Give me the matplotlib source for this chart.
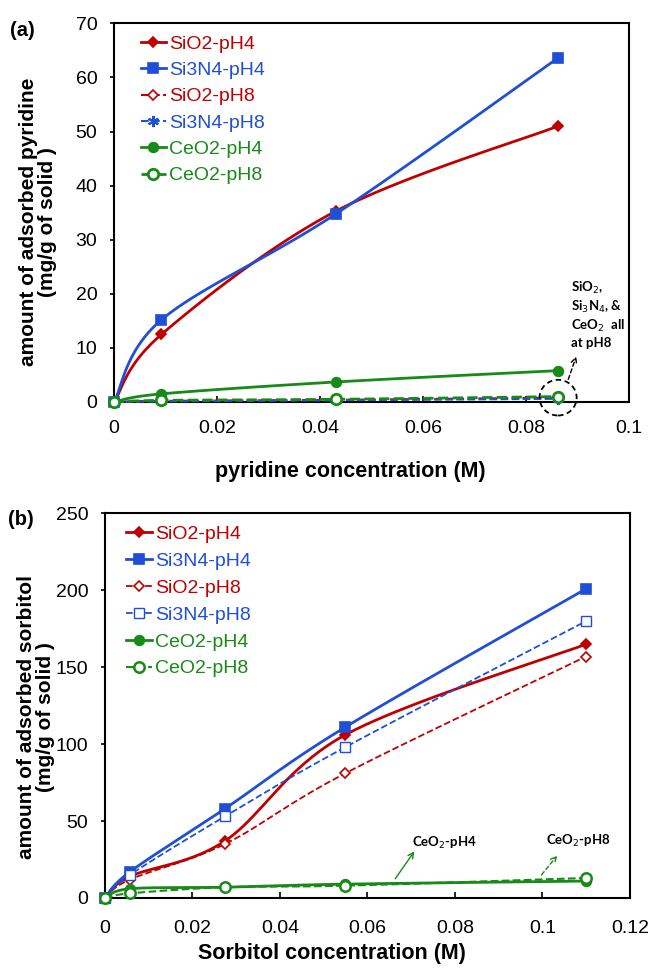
import numpy as np
import matplotlib
matplotlib.use('Agg')
import matplotlib.pyplot as plt
from matplotlib.lines import Line2D
from matplotlib.patches import Ellipse

plt.rcParams['font.family'] = ['Liberation Sans', 'DejaVu Sans']

# ---- data, panel (a): pyridine ----
x_pyr = [0, 0.0092, 0.0431, 0.0862]
pyr_sio2_ph4 = [0, 12.5, 35.3, 51.0]
pyr_si3n4_ph4 = [0, 15.2, 34.8, 63.6]
pyr_sio2_ph8 = [0, 0.2, 0.4, 0.8]
pyr_si3n4_ph8 = [0, 0.1, 0.3, 0.6]
pyr_ceo2_ph4 = [0, 1.5, 3.7, 5.8]
pyr_ceo2_ph8 = [0, 0.3, 0.5, 1.0]

# ---- data, panel (b): sorbitol ----
x_sor = [0, 0.0057, 0.0274, 0.0549, 0.110]
sor_sio2_ph4 = [0, 14, 37, 106, 165]
sor_si3n4_ph4 = [0, 17, 58, 111, 201]
sor_sio2_ph8 = [0, 12, 35, 81, 157]
sor_si3n4_ph8 = [0, 15, 53, 98, 180]
sor_ceo2_ph4 = [0, 6, 7, 9, 11]
sor_ceo2_ph8 = [0, 3, 7, 8, 13]

labels = ['SiO2-pH4', 'Si3N4-pH4', 'SiO2-pH8', 'Si3N4-pH8', 'CeO2-pH4', 'CeO2-pH8']

RED = '#C00000'
BLUE = '#1F4FD6'
GREEN = '#178A17'
NOTE_FONT = ['Lato', 'DejaVu Sans']


def smooth(x, y, n=40):
    # Excel-like smoothed line (Catmull-Rom as cubic Bezier)
    x = np.asarray(x, float)
    y = np.asarray(y, float)
    p = np.column_stack([x, y])
    out = [p[0]]
    t = np.linspace(0, 1, n)[1:, None]
    for i in range(len(p) - 1):
        p0 = p[i - 1] if i > 0 else p[i]
        p3 = p[i + 2] if i + 2 < len(p) else p[i + 1]
        c1 = p[i] + (p[i + 1] - p0) / 6
        c2 = p[i + 1] - (p3 - p[i]) / 6
        seg = ((1 - t) ** 3 * p[i] + 3 * (1 - t) ** 2 * t * c1
               + 3 * (1 - t) * t ** 2 * c2 + t ** 3 * p[i + 1])
        out.extend(seg)
    out = np.array(out)
    return out[:, 0], out[:, 1]


def draw(ax, x, ys, styles):
    handles = []
    for y, (col, ls, lw, mk, ms, mfc, mew, z), lab in zip(ys, styles, labels):
        sx, sy = smooth(x, y)
        ax.plot(sx, sy, color=col, ls=ls, lw=lw, zorder=z, clip_on=False)
        ax.plot(x, y, ls='none', marker=mk, ms=ms, color=col, mfc=mfc,
                mew=mew, zorder=z + 0.5, clip_on=False)
        handles.append(Line2D([], [], color=col, ls=ls, lw=lw, marker=mk,
                              ms=ms, mfc=mfc, mew=mew, label=lab))
    return handles


def style_axes(ax, xpad):
    for s in ax.spines.values():
        s.set_linewidth(1.5)
        s.set_color('black')
    ax.tick_params(axis='y', direction='out', length=3, width=1.2, labelsize=14, pad=9)
    ax.tick_params(axis='x', direction='in', length=4, width=1.2, labelsize=14, pad=xpad)
    ax.xaxis.set_major_formatter(matplotlib.ticker.FormatStrFormatter('%g'))


fig = plt.figure(figsize=(6.52, 9.71), dpi=100)

# ---------------- panel (a) ----------------
ax1 = fig.add_axes([0.175, 0.586, 0.790, 0.390])
styles_a = [
    (RED, '-', 2.0, 'D', 5.5, RED, 1.2, 3),
    (BLUE, '-', 2.0, 's', 7, BLUE, 1.2, 4),
    (RED, '--', 1.5, 'D', 5.5, 'white', 1.2, 5),
    (BLUE, '--', 1.5, (6, 2, 0), 8, BLUE, 1.5, 6),
    (GREEN, '-', 2.0, 'o', 7, GREEN, 1.2, 7),
    (GREEN, '--', 2.0, 'o', 7.5, 'white', 2.0, 8),
]
h1 = draw(ax1, x_pyr, [pyr_sio2_ph4, pyr_si3n4_ph4, pyr_sio2_ph8,
                       pyr_si3n4_ph8, pyr_ceo2_ph4, pyr_ceo2_ph8], styles_a)
ax1.set_xlim(0, 0.1)
ax1.set_ylim(0, 70)
ax1.set_xticks(np.arange(0, 0.1001, 0.02))
ax1.set_yticks(np.arange(0, 71, 10))
style_axes(ax1, 13)
ax1.set_xlabel('pyridine concentration (M)', fontsize=15.5, fontweight='bold')
ax1.xaxis.set_label_coords(0.458, -0.155)
ax1.set_ylabel('amount of adsorbed pyridine\n(mg/g of solid )', fontsize=15,
               fontweight='bold', linespacing=1.0)
ax1.yaxis.set_label_coords(-0.111, 0.475)
ax1.legend(handles=h1, loc='upper left', bbox_to_anchor=(0.025, 1.005), frameon=False,
           fontsize=14, labelcolor='linecolor', handlelength=1.3,
           handletextpad=0.15, labelspacing=0.45, borderaxespad=0.3)

ax1.add_patch(Ellipse((0.0862, 0.8), 0.0072, 6.6, fill=False, ls=(0, (3, 2)),
                      lw=1.3, color='black', clip_on=False, zorder=10))
ax1.annotate('', xy=(0.0899, 8.9), xytext=(0.0880, 3.7),
             arrowprops=dict(arrowstyle='->', ls=(0, (3, 2)), lw=1.0, color='black'))
ax1.text(0.0887, 9.8, 'SiO$_2$,\nSi$_3$N$_4$, &\nCeO$_2$  all\nat pH8', fontsize=9.5,
         fontweight='bold', family=NOTE_FONT, va='bottom', ha='left',
         linespacing=1.25)

# ---------------- panel (b) ----------------
ax2 = fig.add_axes([0.161, 0.0752, 0.805, 0.396])
styles_b = [
    (RED, '-', 2.0, 'D', 5.5, RED, 1.2, 3),
    (BLUE, '-', 2.0, 's', 7, BLUE, 1.2, 4),
    (RED, '--', 1.3, 'D', 5.5, 'white', 1.2, 5),
    (BLUE, '--', 1.3, 's', 7, 'white', 1.0, 6),
    (GREEN, '-', 2.0, 'o', 7, GREEN, 1.2, 7),
    (GREEN, '--', 1.5, 'o', 7.5, 'white', 1.8, 8),
]
h2 = draw(ax2, x_sor, [sor_sio2_ph4, sor_si3n4_ph4, sor_sio2_ph8,
                       sor_si3n4_ph8, sor_ceo2_ph4, sor_ceo2_ph8], styles_b)
ax2.set_xlim(0, 0.12)
ax2.set_ylim(0, 250)
ax2.set_xticks(np.arange(0, 0.1201, 0.02))
ax2.set_yticks(np.arange(0, 251, 50))
style_axes(ax2, 16)
ax2.set_xlabel('Sorbitol concentration (M)', fontsize=15.5, fontweight='bold')
ax2.xaxis.set_label_coords(0.432, -0.118)
ax2.set_ylabel('amount of adsorbed sorbitol\n(mg/g of solid )', fontsize=15,
               fontweight='bold', linespacing=1.0)
ax2.yaxis.set_label_coords(-0.095, 0.47)
ax2.legend(handles=h2, loc='upper left', bbox_to_anchor=(0.015, 1.005), frameon=False,
           fontsize=14, labelcolor='linecolor', handlelength=1.3,
           handletextpad=0.15, labelspacing=0.48, borderaxespad=0.3)

ax2.annotate('', xy=(0.0711, 31.8), xytext=(0.066, 11),
             arrowprops=dict(arrowstyle='->', lw=1.0, color=GREEN))
ax2.text(0.0702, 36, 'CeO$_2$-pH4', fontsize=9.5, fontweight='bold',
         family=NOTE_FONT, va='center', ha='left')
ax2.annotate('', xy=(0.1038, 29), xytext=(0.0994, 13.6),
             arrowprops=dict(arrowstyle='->', lw=1.0, ls=(0, (3, 2)), color=GREEN))
ax2.text(0.1008, 37, 'CeO$_2$-pH8', fontsize=9.5, fontweight='bold',
         family=NOTE_FONT, va='center', ha='left')

fig.text(0.015, 0.969, '(a)', fontsize=14.5, fontweight='bold', va='center')
fig.text(0.012, 0.465, '(b)', fontsize=14.5, fontweight='bold', va='center')

fig.savefig('out.png', dpi=100)
